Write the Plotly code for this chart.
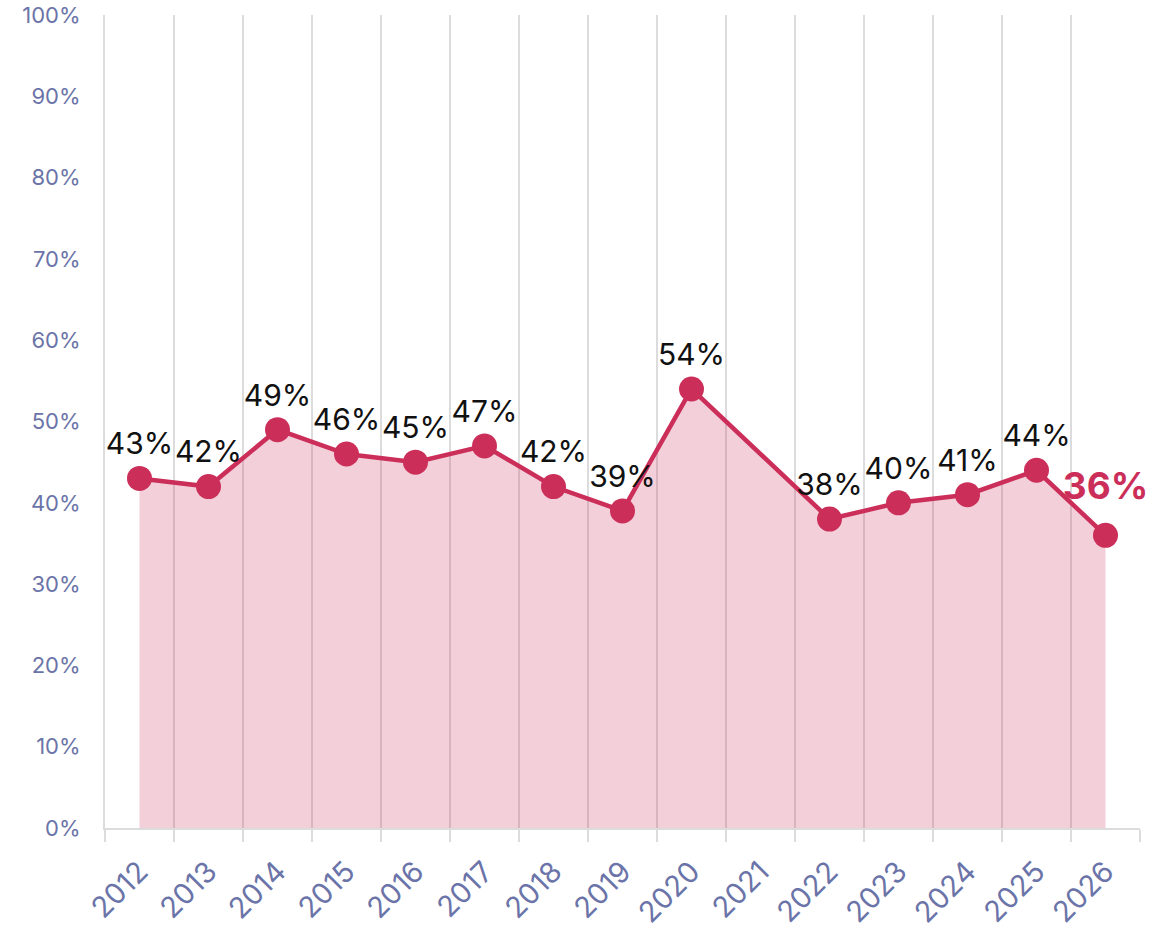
import plotly.graph_objects as go

years = ["2012", "2013", "2014", "2015", "2016", "2017", "2018", "2019",
         "2020", "2021", "2022", "2023", "2024", "2025", "2026"]
values = [43, 42, 49, 46, 45, 47, 42, 39, 54, None, 38, 40, 41, 44, 36]
y_ticks = [0, 10, 20, 30, 40, 50, 60, 70, 80, 90, 100]
y_tick_text = [f"{t}%" for t in y_ticks]

RED = "#cc2e5a"
GRID = "#dcdcdc"
TICKC = "#6b74a8"
FONT = "Inter"

labels = [("" if v is None else f"{v}%") for v in values]
labels[-1] = ""

fig = go.Figure()
fig.add_trace(go.Scatter(
    x=years, y=values, mode="lines+markers+text",
    connectgaps=True, fill="tozeroy", fillcolor="rgba(204,46,90,0.23)",
    line=dict(color=RED, width=4.5),
    marker=dict(color=RED, size=25),
    text=labels, textposition="top center",
    textfont=dict(family=FONT, size=30, color="#111111"),
    cliponaxis=False, hoverinfo="skip", showlegend=False,
))
# Highlighted last value label
fig.add_trace(go.Scatter(
    x=[years[-1]], y=[values[-1]], mode="markers+text",
    marker=dict(size=42, opacity=0),
    text=[f"<b>{values[-1]}%</b>"], textposition="top center",
    textfont=dict(family=FONT, size=37, color=RED),
    cliponaxis=False, hoverinfo="skip", showlegend=False,
))

fig.update_layout(
    width=1171, height=935,
    margin=dict(l=105, r=31, t=15, b=107, autoexpand=False),
    paper_bgcolor="white", plot_bgcolor="white",
    font=dict(family=FONT),
)
fig.update_xaxes(
    type="category", range=[-0.5, 14.5], automargin=False,
    tickson="boundaries", showgrid=True,
    gridcolor=GRID, gridwidth=2,
    ticks="outside", ticklen=12, tickcolor=GRID, tickwidth=2,
    tickangle=-45, tickfont=dict(family=FONT, size=29, color=TICKC),
    ticklabelstandoff=13, ticklabeloverflow="allow",
    showline=True, linecolor=GRID, linewidth=2,
)
fig.update_yaxes(
    range=[0, 100], tickvals=y_ticks, ticktext=y_tick_text, showgrid=False,
    automargin=False, zeroline=False, showline=True, linecolor=GRID, linewidth=2,
    tickfont=dict(family=FONT, size=22, color=TICKC), ticklabelstandoff=18,
    ticklabeloverflow="allow",
)

fig.write_html(
    "out.html",
    config={"displayModeBar": False, "staticPlot": True},
    post_script="document.body.style.margin='0';document.body.style.overflow='hidden';",
)
